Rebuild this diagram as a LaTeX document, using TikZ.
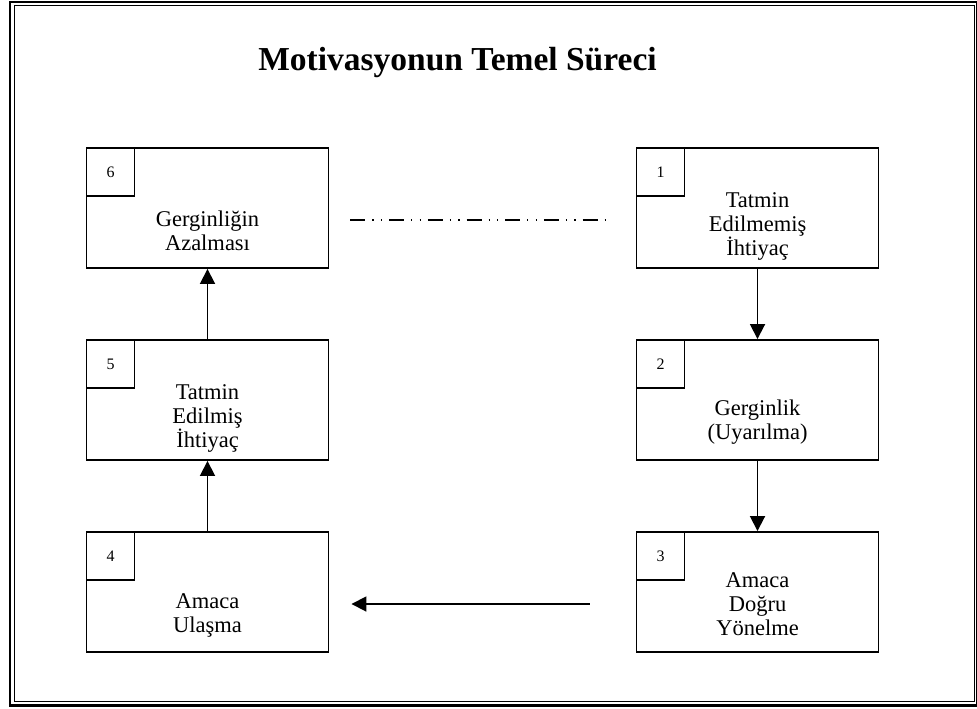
\documentclass[tikz,border=0pt]{standalone}
\usepackage{fontspec}
\setmainfont{Liberation Serif}
\usetikzlibrary{arrows.meta}
\begin{document}
\begin{tikzpicture}[x=1pt,y=-1pt,
  stage/.style={draw,line width=1.9pt,minimum width=242pt,minimum height=120pt,inner sep=0pt},
  numbox/.style={draw,line width=1.9pt,minimum size=48pt,inner sep=0pt,anchor=north west,
    font=\fontsize{16}{18}\selectfont},
  stagetext/.style={align=center,font=\fontsize{22.5}{24}\selectfont},
  flow/.style={line width=1.8pt,-{Triangle[length=15pt,width=15pt]}},
  dashdot/.style={line width=2pt,dash pattern=on 15pt off 7pt on 1.2pt off 7.3pt on 1.2pt off 7pt}
]
\useasboundingbox (0,0) rectangle (977,709);

% double page frame
\draw[line width=2.5pt] (10,2) rectangle (977,705.5);
\draw[line width=1pt] (14,5.5) rectangle (974,701.5);

% title
\node[font=\bfseries\fontsize{33.5}{36}\selectfont] (title) at (457.5,62) {Motivasyonun Temel Süreci};

% stage boxes
\node[stage] (b6) at (207.5,208) {};
\node[stage] (b5) at (207.5,400) {};
\node[stage] (b4) at (207.5,592) {};
\node[stage] (b1) at (757.5,208) {};
\node[stage] (b2) at (757.5,400) {};
\node[stage] (b3) at (757.5,592) {};

% step numbers
\node[numbox] (n6) at (b6.north west) {6};
\node[numbox] (n5) at (b5.north west) {5};
\node[numbox] (n4) at (b4.north west) {4};
\node[numbox] (n1) at (b1.north west) {1};
\node[numbox] (n2) at (b2.north west) {2};
\node[numbox] (n3) at (b3.north west) {3};

% stage labels
\node[stagetext] (t6) at (207.5,230.5) {Gerginliğin\\Azalması};
\node[stagetext] (t5) at (207.5,418) {Tatmin\\Edilmiş\\İhtiyaç};
\node[stagetext] (t4) at (207.5,615) {Amaca\\Ulaşma};
\node[stagetext] (t1) at (757.5,226) {Tatmin\\Edilmemiş\\İhtiyaç};
\node[stagetext] (t2) at (757.5,422) {Gerginlik\\(Uyarılma)};
\node[stagetext] (t3) at (757.5,604) {Amaca\\Doğru\\Yönelme};

% process flow
\draw[flow] (b1) -- (b2);
\draw[flow] (b2) -- (b3);
\draw[flow,shorten <=46pt,shorten >=22pt] ([yshift=-12pt]b3.west) -- ([yshift=-12pt]b4.east);
\draw[flow] (b4) -- (b5);
\draw[flow] (b5) -- (b6);
\draw[dashdot,shorten <=21pt,shorten >=28pt] ([yshift=-12pt]b6.east) -- ([yshift=-12pt]b1.west);
\end{tikzpicture}
\end{document}
